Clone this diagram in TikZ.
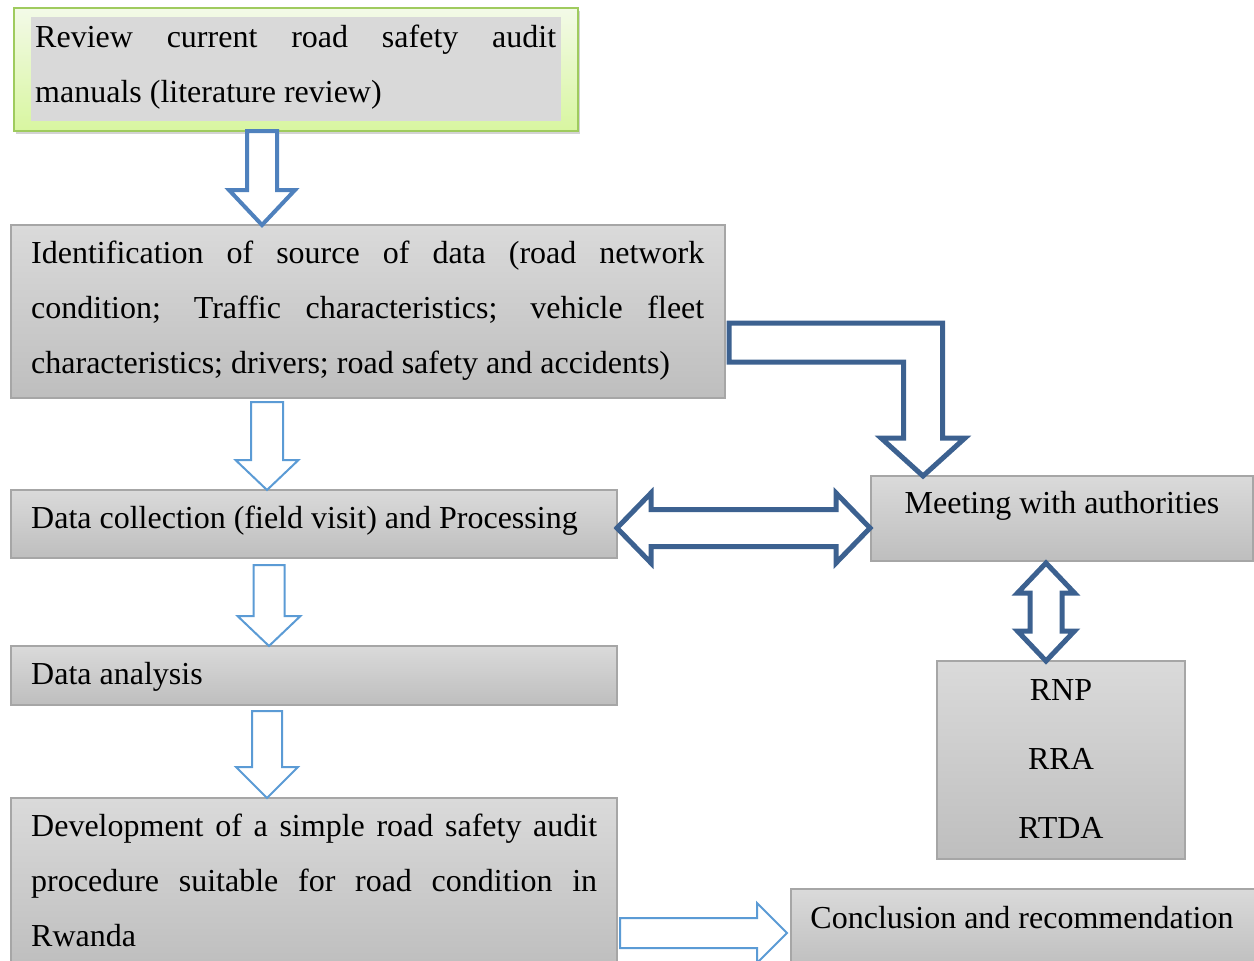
\documentclass[tikz,border=0pt]{standalone}
\usepackage{fontspec}
\setmainfont{Liberation Serif}
\usetikzlibrary{positioning,calc,shadows}

\definecolor{boxtop}{HTML}{DADADA}
\definecolor{boxbot}{HTML}{BEBEBE}
\definecolor{boxline}{HTML}{A6A6A6}
\definecolor{greentop}{HTML}{F3FAE8}
\definecolor{greenbot}{HTML}{D8F6A0}
\definecolor{greenline}{HTML}{9FCB5E}
\definecolor{hilite}{HTML}{D9D9D9}
\definecolor{darkblue}{HTML}{3C6190}
\definecolor{midblue}{HTML}{4F81BD}
\definecolor{lightblue}{HTML}{5B9BD5}

% block arrows: style, from, to, half shaft, half head, head length
\newcommand{\arrowdown}[6]{%
  \draw[#1] let \p1=#2, \p2=#3 in
    ({\x1-#4},\y1) -- ({\x1+#4},\y1) -- ({\x1+#4},{\y2+#6}) -- ({\x1+#5},{\y2+#6})
    -- (\x1,\y2) -- ({\x1-#5},{\y2+#6}) -- ({\x1-#4},{\y2+#6}) -- cycle;}
\newcommand{\arrowright}[6]{%
  \draw[#1] let \p1=#2, \p2=#3 in
    (\x1,{\y1+#4}) -- ({\x2-#6},{\y1+#4}) -- ({\x2-#6},{\y1+#5}) -- (\x2,\y1)
    -- ({\x2-#6},{\y1-#5}) -- ({\x2-#6},{\y1-#4}) -- (\x1,{\y1-#4}) -- cycle;}
\newcommand{\arrowboth}[6]{%
  \draw[#1] let \p1=#2, \p2=#3 in
    (\x1,\y1) -- ({\x1+#6},{\y1+#5}) -- ({\x1+#6},{\y1+#4}) -- ({\x2-#6},{\y1+#4})
    -- ({\x2-#6},{\y1+#5}) -- (\x2,\y1) -- ({\x2-#6},{\y1-#5}) -- ({\x2-#6},{\y1-#4})
    -- ({\x1+#6},{\y1-#4}) -- ({\x1+#6},{\y1-#5}) -- cycle;}
\newcommand{\arrowbothv}[6]{%
  \draw[#1] let \p1=#2, \p2=#3 in
    (\x1,\y1) -- ({\x1+#5},{\y1-#6}) -- ({\x1+#4},{\y1-#6}) -- ({\x1+#4},{\y2+#6})
    -- ({\x1+#5},{\y2+#6}) -- (\x1,\y2) -- ({\x1-#5},{\y2+#6}) -- ({\x1-#4},{\y2+#6})
    -- ({\x1-#4},{\y1-#6}) -- ({\x1-#5},{\y1-#6}) -- cycle;}

\begin{document}
\begin{tikzpicture}[x=1pt, y=-1pt,
  greybox/.style={draw=boxline, line width=1.2pt, top color=boxtop, bottom color=boxbot,
    anchor=north west, inner sep=0pt, outer sep=0pt},
  txt/.style={font=\fontsize{32}{55.3}\selectfont, inner sep=0pt, anchor=base west, align=justify},
  ctxt/.style={font=\fontsize{32}{40}\selectfont, inner sep=0pt, anchor=base},
  thinarr/.style={draw=lightblue, line width=2pt, fill=white, line join=miter},
  midarr/.style={draw=midblue, line width=4pt, fill=white, line join=miter},
  fatarr/.style={draw=darkblue, line width=5pt, fill=white, line join=miter}]

  \clip (0,0) rectangle (1254,961);

  % boxes
  \node[draw=greenline, line width=2pt, top color=greentop, bottom color=greenbot,
    drop shadow={shadow xshift=2pt, shadow yshift=-3pt, opacity=.35},
    minimum width=564pt, minimum height=123pt, anchor=north west, inner sep=0pt, outer sep=0pt] (review) at (14,8) {};
  \node[fill=hilite, minimum width=530pt, minimum height=104pt, anchor=north west, inner sep=0pt] (reviewbg) at (31,17) {};
  \node[greybox, minimum width=714pt, minimum height=173pt] (ident) at (11,225) {};
  \node[greybox, minimum width=606pt, minimum height=68pt] (collect) at (11,490) {};
  \node[greybox, minimum width=606pt, minimum height=59pt] (analysis) at (11,646) {};
  \node[greybox, minimum width=606pt, minimum height=170pt] (develop) at (11,798) {};
  \node[greybox, minimum width=382pt, minimum height=85pt] (meeting) at (871,476) {};
  \node[greybox, minimum width=248pt, minimum height=198pt] (agencies) at (937,661) {};
  \node[greybox, minimum width=470pt, minimum height=80pt] (concl) at (791,889) {};

  % texts
  \node[txt, text width=521pt] (reviewtxt) at (35,47.7) {Review current road safety audit\linebreak manuals (literature review)};
  \node[txt, text width=673pt] (identtxt) at (31,263) {Identification of source of data (road network\linebreak condition; Traffic characteristics; vehicle fleet\linebreak characteristics; drivers; road safety and accidents)};
  \node[txt] (collecttxt) at (31,528) {Data collection (field visit) and Processing};
  \node[txt] (analysistxt) at (31,684) {Data analysis};
  \node[txt, text width=566pt] (developtxt) at (31,836) {Development of a simple road safety audit\linebreak procedure suitable for road condition in\linebreak Rwanda};
  \node[ctxt] (meetingtxt) at (1062,513) {Meeting with authorities};
  \node[ctxt] (rnp) at (1061,700) {RNP};
  \node[ctxt] (rra) at (1061,769) {RRA};
  \node[ctxt] (rtda) at (1061,838) {RTDA};
  \node[ctxt] (concltxt) at (1022,928) {Conclusion and recommendation};

  % arrows
  \arrowdown{midarr}{(262,0 |- review.south)}{(262,0 |- ident.north)}{15pt}{33pt}{35pt}
  \arrowdown{thinarr}{($(267,0 |- ident.south)+(0,4)$)}{(267,0 |- collect.north)}{16pt}{31.5pt}{30pt}
  \arrowdown{thinarr}{($(269,0 |- collect.south)+(0,7)$)}{(269,0 |- analysis.north)}{15.5pt}{31.5pt}{30pt}
  \arrowdown{thinarr}{($(267,0 |- analysis.south)+(0,6)$)}{(267,0 |- develop.north)}{15pt}{31pt}{31pt}
  \arrowright{thinarr}{($(develop.east |- 0,933)+(3,0)$)}{($(concl.west |- 0,933)+(-4,0)$)}{15pt}{30pt}{30pt}
  \arrowboth{fatarr}{(collect.east |- 0,528)}{($(meeting.west |- 0,528)+(-1,0)$)}{18.5pt}{35pt}{34pt}
  \arrowbothv{fatarr}{($(1046,0 |- meeting.south)+(0,2)$)}{(1046,0 |- agencies.north)}{16pt}{28.5pt}{30pt}

  \coordinate (elbowstart) at ($(ident.east |- 0,342.5)+(4,0)$);
  \coordinate (elbowtip) at (923,0 |- meeting.north);
  \draw[fatarr] let \p1=(elbowstart), \p2=(elbowtip) in
    (\x1,{\y1+19.5pt}) -- ({\x2+19.5pt},{\y1+19.5pt}) -- ({\x2+19.5pt},{\y2+38pt})
    -- ({\x2+42pt},{\y2+38pt}) -- (\x2,\y2) -- ({\x2-42pt},{\y2+38pt}) -- ({\x2-19.5pt},{\y2+38pt})
    -- ({\x2-19.5pt},{\y1-19.5pt}) -- (\x1,{\y1-19.5pt}) -- cycle;
\end{tikzpicture}
\end{document}
